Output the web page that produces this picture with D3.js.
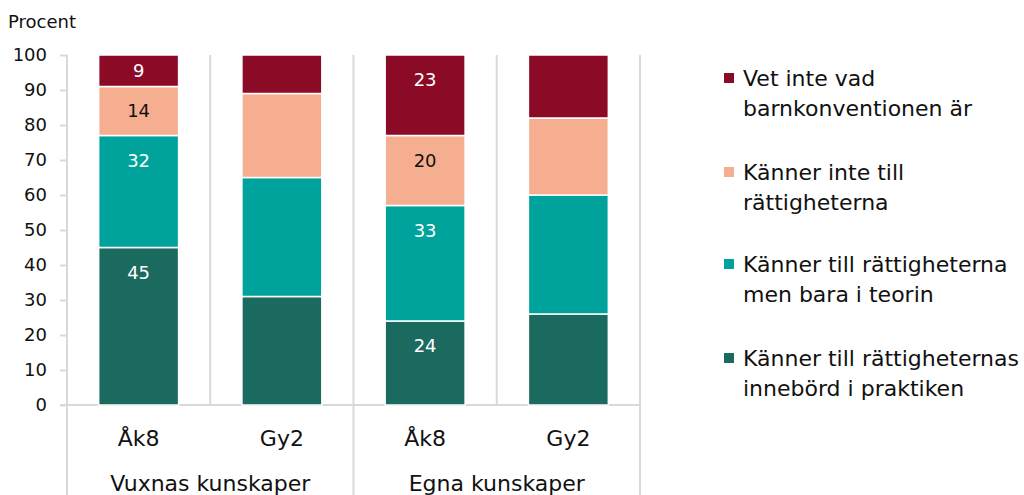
<!DOCTYPE html>
<html><head><meta charset="utf-8">
<script src="https://cdn.jsdelivr.net/npm/d3@7"></script>
<style>html,body{margin:0;padding:0;background:#fff;}svg{display:block;font-family:"DejaVu Sans",sans-serif;}</style>
</head><body><svg id="c" width="1024" height="495"></svg>
<script>
const categories = ["Vuxnas Åk8","Vuxnas Gy2","Egna Åk8","Egna Gy2"];
const catLabels = ["Åk8","Gy2","Åk8","Gy2"];
const groups = ["Vuxnas kunskaper","Egna kunskaper"];
const seriesNames = ["Känner till rättigheternas innebörd i praktiken","Känner till rättigheterna men bara i teorin","Känner inte till rättigheterna","Vet inte vad barnkonventionen är"];
const praktiken = [45, 31, 24, 26];
const teorin = [32, 34, 33, 34];
const inteTill = [14, 24, 20, 22];
const vetInte = [9, 11, 23, 18];
const labeledCategories = ["Vuxnas Åk8","Egna Åk8"];
const yTicks = [0,10,20,30,40,50,60,70,80,90,100];
const legendLines = [["Vet inte vad","barnkonventionen är"],["Känner inte till","rättigheterna"],["Känner till rättigheterna","men bara i teorin"],["Känner till rättigheternas","innebörd i praktiken"]];

const colors = ["#1b6a60","#00a39b","#f6ae90","#8b0a26"];
const labelColors = ["#fff","#fff","#111","#fff"];
const svg = d3.select("#c");
const L=67, R=640, T=55, B=405;
const x = d3.scaleBand().domain(categories).range([L,R]).paddingInner(0.442).paddingOuter(0.221);
const y = d3.scaleLinear().domain([0,100]).range([B,T]);
const grid="#d9d9d9";

// grid / separators
const bw = (R-L)/categories.length;
d3.range(categories.length+1).forEach(i=>{
  const xx = L + i*bw;
  const full = (i%2===0);
  svg.append("line").attr("x1",xx).attr("x2",xx).attr("y1",T).attr("y2",full?495:B)
    .attr("stroke",grid).attr("stroke-width",2);
});
// y axis ticks
const yAxis = svg.append("g").attr("transform",`translate(${L},0)`)
  .call(d3.axisLeft(y).tickValues(yTicks).tickSize(7).tickPadding(13));
yAxis.select(".domain").remove();
yAxis.selectAll(".tick line").attr("stroke",grid).attr("stroke-width",2);
yAxis.selectAll(".tick text").attr("fill","#111").style("font-size","18px").style("font-family","DejaVu Sans");
// x axis line
svg.append("line").attr("x1",60).attr("x2",R+1).attr("y1",B).attr("y2",B).attr("stroke",grid).attr("stroke-width",2);

const seriesVals = [praktiken, teorin, inteTill, vetInte];
const rows = categories.map((c,i)=>{const o={cat:c}; seriesNames.forEach((s,j)=>o[s]=seriesVals[j][i]); return o;});
const stack = d3.stack().keys(seriesNames)(rows);
stack.forEach((layer,j)=>{
  const g = svg.append("g");
  g.selectAll("rect").data(layer).join("rect")
    .attr("x",d=>x(d.data.cat)).attr("width",x.bandwidth())
    .attr("y",d=>y(d[1])).attr("height",d=>y(d[0])-y(d[1]))
    .attr("fill",colors[j]).attr("stroke","#fff").attr("stroke-width",1.5);
  g.selectAll("text").data(layer.filter(d=>labeledCategories.includes(d.data.cat))).join("text")
    .attr("x",d=>x(d.data.cat)+x.bandwidth()/2)
    .attr("y",d=>{const top=y(d[1]), h=y(d[0])-y(d[1]); return top+Math.min(25,h/2);})
    .attr("dy","0.36em").attr("text-anchor","middle")
    .attr("fill",labelColors[j]).style("font-size","18px")
    .text(d=>d[1]-d[0]);
});
// category labels
svg.selectAll(".cl").data(categories).join("text").attr("class","cl")
  .attr("x",d=>x(d)+x.bandwidth()/2).attr("y",438).attr("dy","0.36em").attr("text-anchor","middle")
  .attr("fill","#111").style("font-size","22px").text((d,i)=>catLabels[i]);
svg.selectAll(".gl").data(groups).join("text").attr("class","gl")
  .attr("x",(d,i)=>L+bw*(2*i+1)).attr("y",483).attr("dy","0.36em").attr("text-anchor","middle")
  .attr("fill","#111").style("font-size","22px").text(d=>d);
// Procent
svg.append("text").attr("x",8).attr("y",22).attr("dy","0.36em").attr("fill","#111").style("font-size","18px").text("Procent");
// legend
const legY=[78,172,264,358];
legendLines.forEach((lines,k)=>{
  const ci = 3-k;
  svg.append("rect").attr("x",724).attr("y",legY[k]-5).attr("width",10).attr("height",10).attr("fill",colors[ci]);
  lines.forEach((t,li)=>{
    svg.append("text").attr("x",743).attr("y",legY[k]+li*30).attr("dy","0.36em").attr("fill","#111")
      .style("font-size","22px").text(t);
  });
});
</script></body></html>
